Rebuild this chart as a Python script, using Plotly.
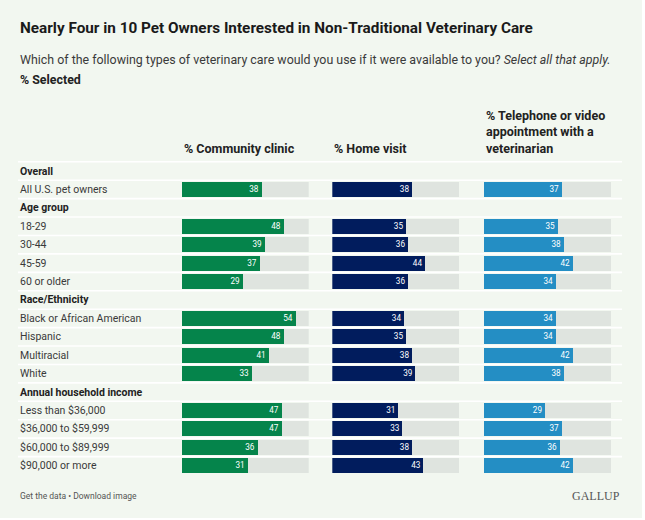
import plotly.graph_objects as go

rows = [
    "Overall", "All U.S. pet owners",
    "Age group", "18-29", "30-44", "45-59", "60 or older",
    "Race/Ethnicity", "Black or African American", "Hispanic", "Multiracial", "White",
    "Annual household income", "Less than $36,000", "$36,000 to $59,999",
    "$60,000 to $89,999", "$90,000 or more",
]
headers = ["Overall", "Age group", "Race/Ethnicity", "Annual household income"]

community_clinic = [None, 38, None, 48, 39, 37, 29, None, 54, 48, 41, 33, None, 47, 47, 36, 31]
home_visit = [None, 38, None, 35, 36, 44, 36, None, 34, 35, 38, 39, None, 31, 33, 38, 43]
telephone_video = [None, 37, None, 35, 38, 42, 34, None, 34, 34, 42, 38, None, 29, 37, 36, 42]

columns = [
    ("% Community clinic", community_clinic, "#05844b"),
    ("% Home visit", home_visit, "#011c5d"),
    ("% Telephone or video<br>appointment with a<br>veterinarian", telephone_video, "#248ec4"),
]
scale_max = 60

FONT = "Roboto"
BG = "#f2f7f0"
TRACK = "#dfe4df"

fig = go.Figure()
axes = ["x", "x2", "x3"]
for (name, vals, color), xa in zip(columns, axes):
    track = [None if v is None else scale_max for v in vals]
    fig.add_trace(go.Bar(
        y=rows, x=track, orientation="h", xaxis=xa, yaxis="y",
        marker=dict(color=TRACK, line=dict(width=0)),
        hoverinfo="skip", showlegend=False, width=0.82,
    ))
    fig.add_trace(go.Bar(
        y=rows, x=vals, orientation="h", xaxis=xa, yaxis="y",
        marker=dict(color=color, line=dict(width=0)),
        text=[None if v is None else str(v) for v in vals],
        textposition="inside", insidetextanchor="end",
        textfont=dict(family=FONT, size=10, color="white"),
        name=name.replace("<br>", " "), showlegend=False, width=0.82,
    ))

xdom = [(0.271, 0.4813), (0.5204, 0.7306), (0.7715, 0.9818)]
layout_axes = {}
for i, d in enumerate(xdom):
    key = "xaxis" if i == 0 else "xaxis%d" % (i + 1)
    layout_axes[key] = dict(domain=list(d), range=[0, scale_max], visible=False,
                            anchor="y", fixedrange=True)

annotations = []
# row labels
for r in rows:
    bold = r in headers
    annotations.append(dict(
        xref="paper", yref="y", x=0, y=r, xanchor="left", yanchor="middle",
        text="<b>%s</b>" % r if bold else r, showarrow=False,
        font=dict(family=FONT, size=10.5, color="#222" if bold else "#3a3a3a"),
    ))

plot_top, plot_h = 475, 314
def py(pix):
    return (plot_top - pix) / plot_h

# column headers, bottom-aligned
for (name, vals, color), xa in zip(columns, axes):
    annotations.append(dict(
        xref=xa + " domain", yref="paper", x=0, y=py(158),
        xanchor="left", yanchor="bottom", align="left",
        text="<b>%s</b>" % name.replace("<br>", "</b><br><b>"), showarrow=False,
        font=dict(family=FONT, size=12.5, color="#222"),
    ))

annotations += [
    dict(xref="paper", yref="paper", x=0, y=py(28), xanchor="left", yanchor="middle",
         text="<b>Nearly Four in 10 Pet Owners Interested in Non-Traditional Veterinary Care</b>",
         showarrow=False, font=dict(family=FONT, size=15.3, color="#1a1a1a")),
    dict(xref="paper", yref="paper", x=0, y=py(59), xanchor="left", yanchor="middle",
         text="Which of the following types of veterinary care would you use if it were available to you? <i>Select all that apply.</i>",
         showarrow=False, font=dict(family=FONT, size=12.4, color="#3a3a3a")),
    dict(xref="paper", yref="paper", x=0, y=py(80), xanchor="left", yanchor="middle",
         text="<b>% Selected</b>", showarrow=False, font=dict(family=FONT, size=12.4, color="#222")),
    dict(xref="paper", yref="paper", x=0, y=py(496), xanchor="left", yanchor="middle",
         text="Get the data • Download image", showarrow=False,
         font=dict(family=FONT, size=8.5, color="#555")),
    dict(xref="paper", yref="paper", x=1, y=py(496), xanchor="right", yanchor="middle",
         text="GALLUP", showarrow=False,
         font=dict(family="Liberation Serif", size=12, color="#555")),
]

# white separators above each row
shapes = [dict(type="line", xref="paper", yref="y", x0=0, x1=1, y0=i - 0.5, y1=i - 0.5,
               line=dict(color="white", width=1.6), layer="below")
          for i in range(len(rows))]

fig.update_layout(
    width=642, height=518,
    margin=dict(l=18, r=20, t=161, b=43),
    paper_bgcolor=BG, plot_bgcolor=BG,
    barmode="overlay", bargap=0,
    yaxis=dict(categoryorder="array", categoryarray=rows, autorange="reversed",
               visible=False, fixedrange=True),
    annotations=annotations, shapes=shapes,
    font=dict(family=FONT),
    **layout_axes,
)

fig.write_html("out.html", config=dict(displayModeBar=False),
               post_script="document.body.style.margin='0px';")
